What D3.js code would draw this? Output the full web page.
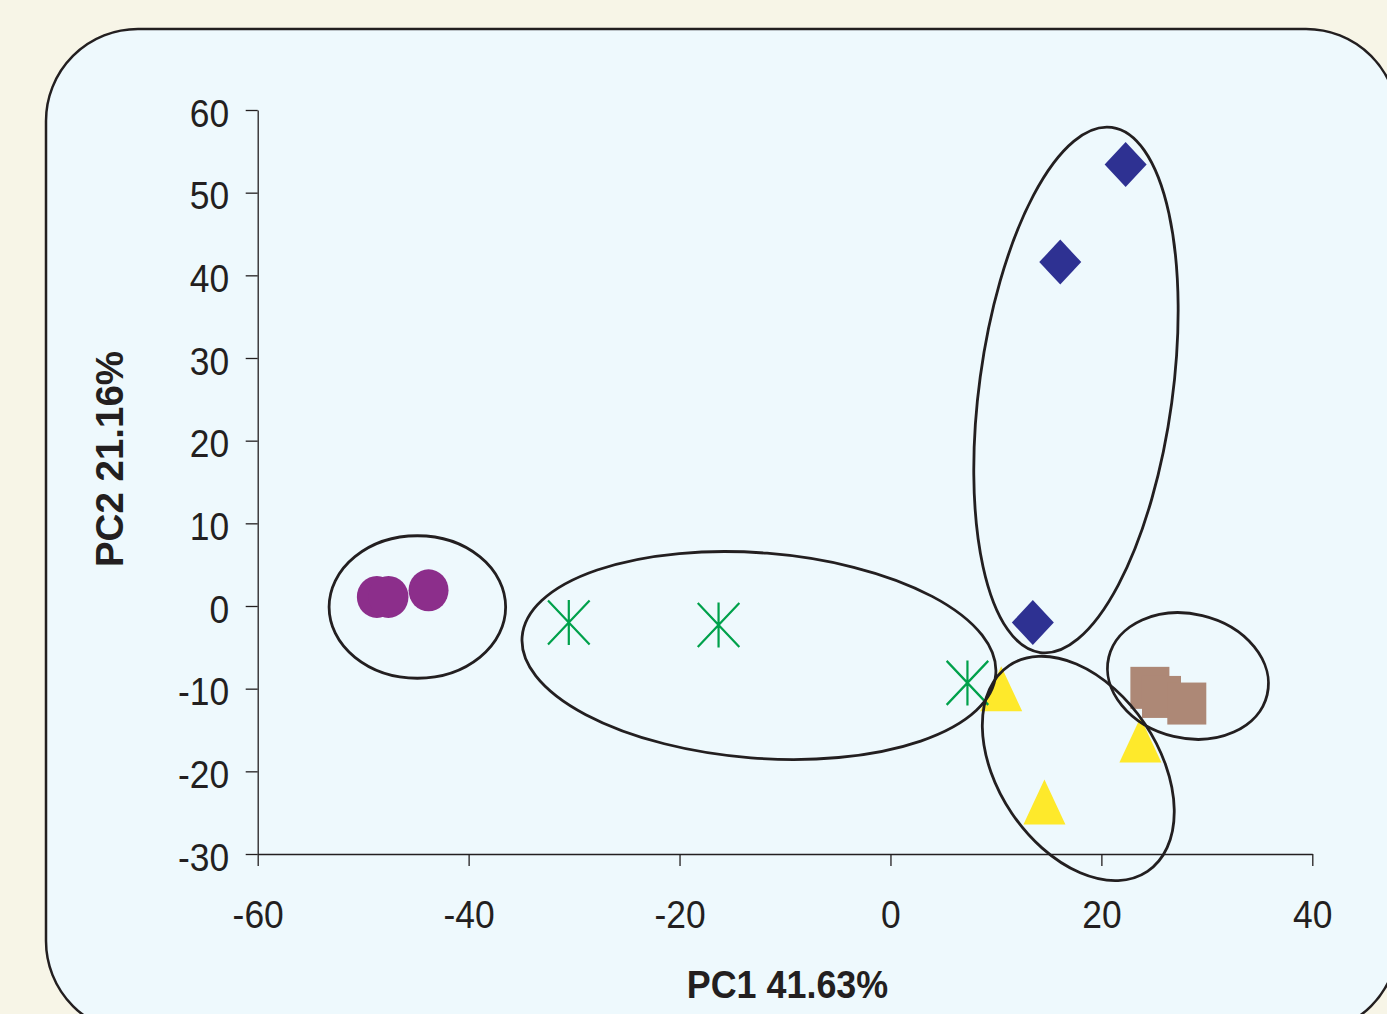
<!DOCTYPE html>
<html>
<head>
<meta charset="utf-8">
<script src="https://cdn.jsdelivr.net/npm/d3@7"></script>
<style>
  html, body { margin: 0; padding: 0; background: #f7f5e7; }
  svg { display: block; }
  text { font-family: "Liberation Sans", Arial, sans-serif; fill: #231f20; }
</style>
</head>
<body>
<div id="chart"></div>
<script>
// Scores per group [PC1, PC2]
var circlePts   = [[-48.7, 1.1], [-47.6, 1.1], [-43.8, 1.9]];
var starPts     = [[-30.5, -2.0], [-16.3, -2.3], [7.3, -9.3]];
var diamondPts  = [[22.3, 53.4], [16.1, 41.6], [13.5, -2.0]];
var trianglePts = [[10.5, -10.0], [23.7, -16.2], [14.6, -23.7]];
var squarePts   = [[24.6, -9.9], [25.7, -11.0], [28.1, -11.8]];

// Group ellipses: [centre PC1, centre PC2, half-width PC1, half-height PC2, correlation]
var groupEllipses = [
    [-44.86, -0.12, 8.37, 8.62, 0],
    [-12.47, -5.99, 22.47, 12.58, -0.146],
    [17.59, 26.13, 9.69, 31.80, 0.303],
    [17.81, -19.65, 9.10, 13.57, -0.385],
    [28.21, -8.47, 7.63, 7.66, -0.122]
];

var xTicks = [-60, -40, -20, 0, 20, 40];
var yTicks = [-30, -20, -10, 0, 10, 20, 30, 40, 50, 60];
var xTitle = "PC1 41.63%";
var yTitle = "PC2 21.16%";

var W = 1387, H = 1014;
var ink = "#231f20";
var squeeze = 0.92;

var svg = d3.select("#chart").append("svg")
    .attr("width", W)
    .attr("height", H);

// panel
svg.append("rect")
    .attr("x", 46).attr("y", 29)
    .attr("width", 1352).attr("height", 1004)
    .attr("rx", 92).attr("ry", 92)
    .attr("fill", "#eef9fd")
    .attr("stroke", ink)
    .attr("stroke-width", 2.5);

var x = d3.scaleLinear().domain([-60, 40]).range([257.7, 1312.3]);
var y = d3.scaleLinear().domain([-30, 60]).range([854, 110]);

var plain = function(d) { return String(d); };

// axes
var xAxis = svg.append("g")
    .attr("transform", "translate(0," + y(-30) + ")")
    .call(d3.axisBottom(x).tickValues(xTicks).tickFormat(plain).tickSize(12).tickSizeOuter(0));
var yAxis = svg.append("g")
    .attr("transform", "translate(" + x(-60) + ",0)")
    .call(d3.axisLeft(y).tickValues(yTicks).tickFormat(plain).tickSize(12).tickSizeOuter(0));

[xAxis, yAxis].forEach(function(a) {
    a.select(".domain").attr("stroke", ink).attr("stroke-width", 1.3);
    a.selectAll(".tick line").attr("stroke", ink).attr("stroke-width", 1.3);
    a.selectAll("text").attr("font-size", "38.5px").attr("fill", ink)
        .style("font-family", '"Liberation Sans", Arial, sans-serif');
});

xAxis.selectAll("text")
    .attr("x", null).attr("y", null).attr("dy", null)
    .attr("text-anchor", "middle")
    .attr("transform", "translate(0,74) scale(" + squeeze + ",1)");

yAxis.selectAll("text")
    .attr("x", null).attr("y", null)
    .attr("dy", "0.42em")
    .attr("text-anchor", "end")
    .attr("transform", "translate(-28.5,0) scale(" + squeeze + ",1)");

// axis titles
svg.append("text")
    .attr("transform", "translate(787.5,998.3) scale(" + squeeze + ",1)")
    .attr("text-anchor", "middle")
    .attr("font-size", "39px")
    .attr("font-weight", "bold")
    .text(xTitle);

svg.append("text")
    .attr("transform", "translate(123.3,459) rotate(-90)")
    .attr("text-anchor", "middle")
    .attr("font-size", "38.5px")
    .attr("font-weight", "bold")
    .text(yTitle);

var marks = svg.append("g");

// squares
marks.selectAll(".sq").data(squarePts).enter().append("rect")
    .attr("class", "sq")
    .attr("x", function(d) { return x(d[0]) - 19.5; })
    .attr("y", function(d) { return y(d[1]) - 21; })
    .attr("width", 39).attr("height", 42)
    .attr("fill", "#ad8876");

// diamonds
marks.selectAll(".dm").data(diamondPts).enter().append("path")
    .attr("class", "dm")
    .attr("transform", function(d) { return "translate(" + x(d[0]) + "," + y(d[1]) + ")"; })
    .attr("d", "M0,-22.5L21,0L0,22.5L-21,0Z")
    .attr("fill", "#2e3192");

// triangles
marks.selectAll(".tr").data(trianglePts).enter().append("path")
    .attr("class", "tr")
    .attr("transform", function(d) { return "translate(" + x(d[0]) + "," + y(d[1]) + ")"; })
    .attr("d", "M0,-22.5L21,22.5L-21,22.5Z")
    .attr("fill", "#fee92b");

// asterisks
marks.selectAll(".st").data(starPts).enter().append("path")
    .attr("class", "st")
    .attr("transform", function(d) { return "translate(" + x(d[0]) + "," + y(d[1]) + ")"; })
    .attr("d", "M0,-22.5V22.5M-20.8,-22L20.8,22M20.8,-22L-20.8,22")
    .attr("fill", "none")
    .attr("stroke", "#00a14b")
    .attr("stroke-width", 2.2);

// circles
marks.selectAll(".ci").data(circlePts).enter().append("ellipse")
    .attr("class", "ci")
    .attr("cx", function(d) { return x(d[0]); })
    .attr("cy", function(d) { return y(d[1]); })
    .attr("rx", 20).attr("ry", 21)
    .attr("fill", "#8c2e8b");

// group ellipses, from data-space extent + correlation to pixel ellipse
var kx = Math.abs(x(1) - x(0));
var ky = Math.abs(y(1) - y(0));

svg.append("g").selectAll("ellipse").data(groupEllipses).enter().append("ellipse")
    .each(function(d) {
        var a = d[2] * kx, b = d[3] * ky;
        var sxx = a * a, syy = b * b, sxy = -d[4] * a * b;
        var m = (sxx + syy) / 2;
        var dd = Math.sqrt(Math.pow((sxx - syy) / 2, 2) + sxy * sxy);
        var phi = 0.5 * Math.atan2(2 * sxy, sxx - syy) * 180 / Math.PI;
        var cx = x(d[0]), cy = y(d[1]);
        d3.select(this)
            .attr("cx", cx).attr("cy", cy)
            .attr("rx", Math.sqrt(m + dd))
            .attr("ry", Math.sqrt(Math.max(m - dd, 0)))
            .attr("transform", "rotate(" + phi + "," + cx + "," + cy + ")");
    })
    .attr("fill", "none")
    .attr("stroke", ink)
    .attr("stroke-width", 2.8);
</script>
</body>
</html>
